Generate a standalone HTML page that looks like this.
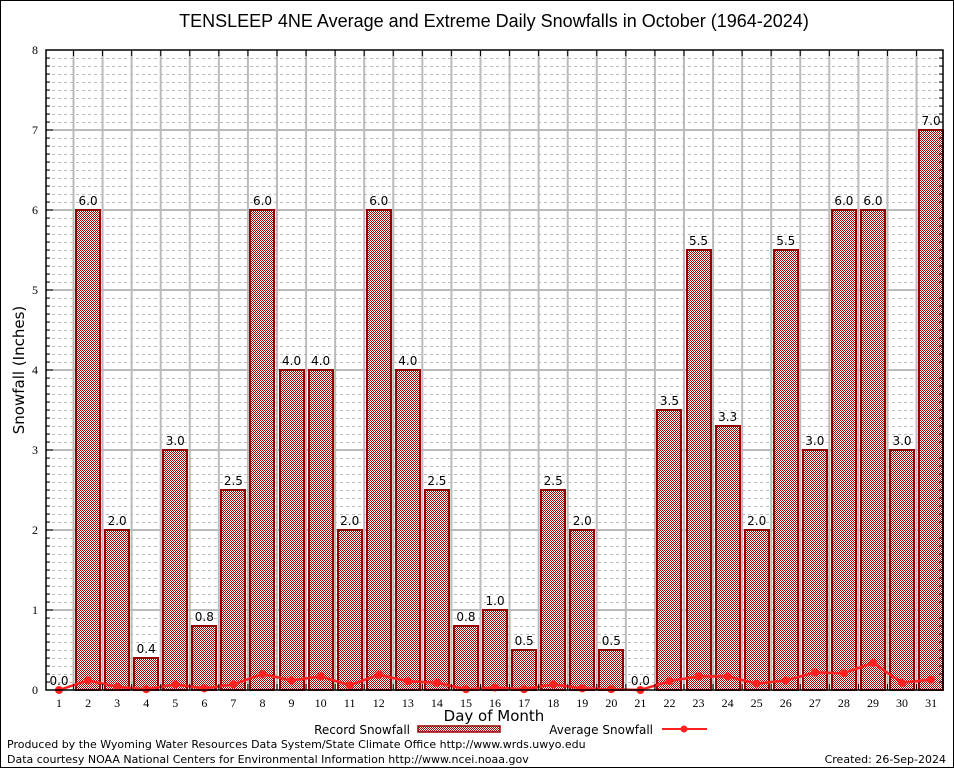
<!DOCTYPE html>
<html><head><meta charset="utf-8"><style>
body{margin:0;background:#fff;}
svg{display:block;font-family:"DejaVu Sans","Liberation Sans",sans-serif;}
</style></head><body>
<svg id="c" width="954" height="768" viewBox="0 0 954 768">
<defs>
<pattern id="hatch" width="2" height="2" patternUnits="userSpaceOnUse">
<rect width="2" height="2" fill="#fff" shape-rendering="crispEdges"/><rect width="1" height="1" fill="#a80000" shape-rendering="crispEdges"/><rect x="1" y="1" width="1" height="1" fill="#a80000" shape-rendering="crispEdges"/>
</pattern>
</defs>
<rect x="0.5" y="0.5" width="953" height="767" fill="#fff" stroke="#000"/>
<text x="494" y="27" font-size="18" text-anchor="middle" font-family="Liberation Sans, sans-serif">TENSLEEP 4NE Average and Extreme Daily Snowfalls in October (1964-2024)</text>
<g id="grid"></g>
<g id="bars"></g>
<g id="avg"></g>
<g id="axes"></g>
<text x="24" y="370" font-size="15" text-anchor="middle" transform="rotate(-90 24 370)">Snowfall (Inches)</text>
<text x="494" y="721" font-size="15" text-anchor="middle">Day of Month</text>
<g>
<text x="410" y="734" font-size="12" text-anchor="end">Record Snowfall</text>
<rect x="418" y="726" width="82" height="6" fill="url(#hatch)" stroke="#990000" stroke-width="1.5"/>
</g>
<g>
<text x="653" y="734" font-size="12" text-anchor="end">Average Snowfall</text>
<line x1="662" y1="729" x2="707" y2="729" stroke="#ff2020" stroke-width="2"/>
<circle cx="684" cy="729" r="3.5" fill="#ff2020"/>
</g>
<text x="7" y="748" font-size="11">Produced by the Wyoming Water Resources Data System/State Climate Office http://www.wrds.uwyo.edu</text>
<text x="7" y="763" font-size="11">Data courtesy NOAA National Centers for Environmental Information http://www.ncei.noaa.gov</text>
<text x="946" y="763" font-size="11" text-anchor="end">Created: 26-Sep-2024</text>
</svg>
<script>
const days=[1,2,3,4,5,6,7,8,9,10,11,12,13,14,15,16,17,18,19,20,21,22,23,24,25,26,27,28,29,30,31];
const recordValues=[0.0,6.0,2.0,0.4,3.0,0.8,2.5,6.0,4.0,4.0,2.0,6.0,4.0,2.5,0.8,1.0,0.5,2.5,2.0,0.5,0.0,3.5,5.5,3.3,2.0,5.5,3.0,6.0,6.0,3.0,7.0];
const avgValues=[0.0,0.12,0.04,0.01,0.07,0.02,0.07,0.2,0.12,0.17,0.06,0.19,0.11,0.09,0.01,0.03,0.01,0.07,0.02,0.01,0.0,0.11,0.17,0.17,0.08,0.12,0.22,0.21,0.34,0.09,0.13];
const yTicks=[0,1,2,3,4,5,6,7,8];
const NS='http://www.w3.org/2000/svg';
const L=46,R=943,T=50,B=690;
function xs(d){return 59+(d-1)*29.07;}
function ys(v){return B-(v/8)*(B-T);}
function mk(tag,attrs,parent,txt){const e=document.createElementNS(NS,tag);for(const k in attrs)e.setAttribute(k,attrs[k]);if(txt!==undefined)e.textContent=txt;document.getElementById(parent).appendChild(e);return e;}
for(let i=1;i<80;i++){if(i%10===0)continue;const y=Math.round(ys(i/10))+0.5;
const g=mk('line',{x1:L,x2:R,y1:y,y2:y,stroke:'#bbb','stroke-dasharray':'3,3','stroke-width':1},'grid');

}
yTicks.forEach(t=>{if(t===0||t===8)return;const y=ys(t);
const g=mk('line',{x1:L,x2:R,y1:y,y2:y,stroke:'#bbb','stroke-width':2},'grid');

});
for(let d=1;d<days.length;d++){const x=xs(d)+14.5;
const g=mk('line',{x1:x,x2:x,y1:T,y2:B,stroke:'#bbb','stroke-width':2},'grid');

}
days.forEach((d,i)=>{const v=recordValues[i];const x=xs(d);
if(v>0){const r=mk('rect',{x:Math.round(x-12),y:ys(v),width:24,height:B-ys(v),fill:'url(#hatch)',stroke:'#990000','stroke-width':2},'bars');

}
const t=mk('text',{x:x,y:ys(v)-5,'font-size':12,'text-anchor':'middle'},'bars',v.toFixed(1));

});
const pts=days.map((d,i)=>xs(d)+','+ys(avgValues[i])).join(' ');
const pl=mk('polyline',{points:pts,fill:'none',stroke:'#ff2020','stroke-width':2.5},'avg');


days.forEach((d,i)=>{const c=mk('circle',{cx:xs(d),cy:ys(avgValues[i]),r:4,fill:'#ff2020'},'avg');

});
const fr=mk('rect',{x:L,y:T,width:R-L,height:B-T,fill:'none',stroke:'#000','stroke-width':1.5},'axes');


yTicks.forEach(t=>{const y=ys(t);
mk('line',{x1:L,x2:L+7,y1:y,y2:y,stroke:'#000'},'axes');
const tx=mk('text',{x:38,y:y+4,'font-size':12,'text-anchor':'end','font-family':'Liberation Serif, serif'},'axes',String(t));

});
for(let i=1;i<80;i++){if(i%10===0)continue;const y=ys(i/10);mk('line',{x1:L,x2:L+4,y1:y,y2:y,stroke:'#000'},'axes');mk('line',{x1:R-4,x2:R,y1:y,y2:y,stroke:'#000'},'axes');}
for(let d=1;d<days.length;d++){const x=xs(d)+14.5;mk('line',{x1:x,x2:x,y1:T,y2:T+6,stroke:'#000'},'axes');mk('line',{x1:x,x2:x,y1:B-6,y2:B,stroke:'#000'},'axes');}
days.forEach(d=>{const tx=mk('text',{x:xs(d),y:707,'font-size':12,'text-anchor':'middle','font-family':'Liberation Serif, serif'},'axes',String(d));

});
</script>
</body></html>
